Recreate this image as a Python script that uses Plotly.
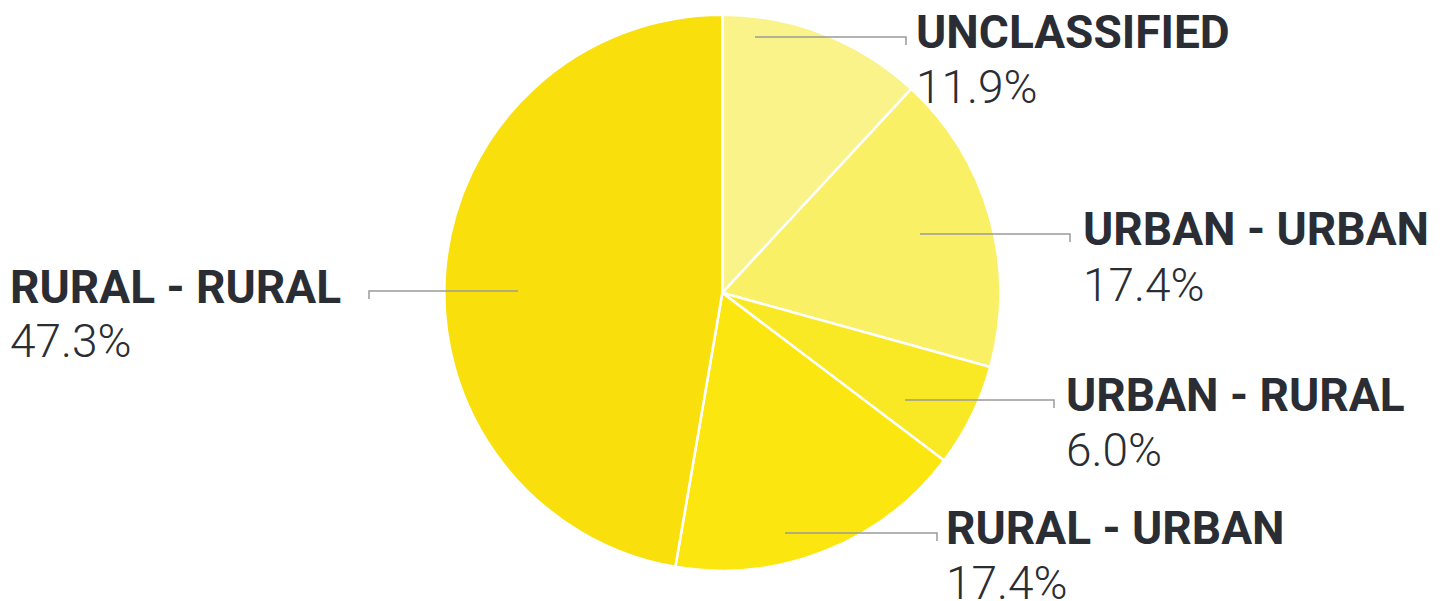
import plotly.graph_objects as go

# ---- data ----
categories = ["UNCLASSIFIED", "URBAN - URBAN", "URBAN - RURAL", "RURAL - URBAN", "RURAL - RURAL"]
shares = [11.9, 17.4, 6.0, 17.4, 47.3]
colors = ["#FAF38A", "#FAF066", "#F9E925", "#FBE70F", "#F9E00C"]

# ---- layout constants (pixels) ----
W, H = 1449, 601
CX, CY, R = 722.3, 292.8, 278
# label anchor (left x, name y, pct y) and leader (x_start, x_end, y)
label_pos = {
    "UNCLASSIFIED": (914, 32, 87, 755, 906, 37),
    "URBAN - URBAN": (1081, 229, 285, 920, 1070, 234),
    "URBAN - RURAL": (1064, 395, 450, 905, 1054, 400),
    "RURAL - URBAN": (944, 528, 583, 785, 937, 533),
    "RURAL - RURAL": (8, 287, 341, 518, 369, 291),
}

def px(x):
    return x / W

def py(y):
    return 1 - y / H

fig = go.Figure(go.Pie(
    labels=categories,
    values=shares,
    sort=False,
    direction="clockwise",
    rotation=0,
    marker=dict(colors=colors, line=dict(color="white", width=2.5)),
    textinfo="none",
    hoverinfo="label+percent",
    domain=dict(x=[px(CX - R), px(CX + R)], y=[py(CY + R), py(CY - R)]),
    showlegend=False,
))

annotations = []
shapes = []
for cat, val in zip(categories, shares):
    lx, ny, pyy, x0, x1, ly = label_pos[cat]
    annotations.append(dict(
        x=px(lx), y=py(ny), xref="paper", yref="paper", xanchor="left", yanchor="middle",
        text=cat, showarrow=False,
        font=dict(family="Roboto", size=46, color="#2a2d33", weight=700),
    ))
    annotations.append(dict(
        x=px(lx), y=py(pyy), xref="paper", yref="paper", xanchor="left", yanchor="middle",
        text=f"{val:.1f}%", showarrow=False,
        font=dict(family="Roboto", size=46, color="#2a2d33", weight=300),
    ))
    shapes.append(dict(
        type="path", xref="paper", yref="paper",
        path=f"M {px(x0)} {py(ly)} L {px(x1)} {py(ly)} L {px(x1)} {py(ly + 8)}",
        line=dict(color="#9a9a9a", width=1.5),
    ))

fig.update_layout(
    width=W, height=H,
    margin=dict(l=0, r=0, t=0, b=0),
    paper_bgcolor="white",
    plot_bgcolor="white",
    annotations=annotations,
    shapes=shapes,
)

fig.write_html("out.html")
